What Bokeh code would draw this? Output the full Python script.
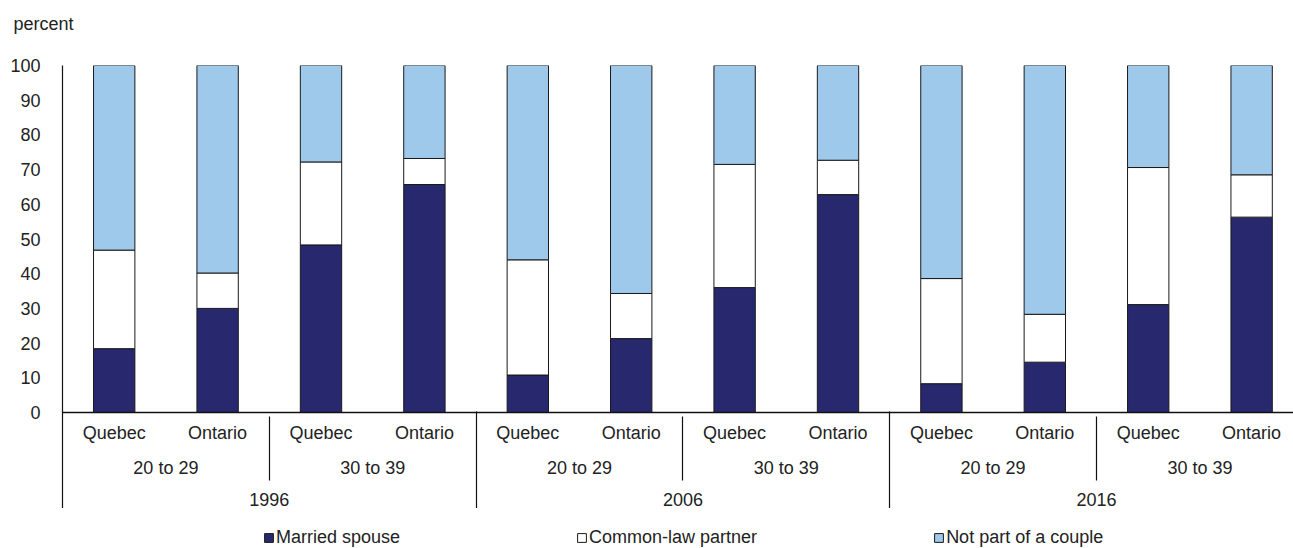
from bokeh.plotting import figure
from bokeh.layouts import column
from bokeh.models import Range1d, LinearAxis, FixedTicker, Legend, LegendItem, ColumnDataSource, Title
from bokeh.embed import file_html
from bokeh.resources import INLINE

# ---- data ----
years = ["1996", "2006", "2016"]
age_groups = ["20 to 29", "30 to 39"]
provinces = ["Quebec", "Ontario"]
married = [18.4, 30.0, 48.3, 65.7, 10.8, 21.3, 36.0, 62.8, 8.3, 14.5, 31.1, 56.3]
common_law = [28.4, 10.2, 23.9, 7.5, 33.2, 13.0, 35.5, 9.9, 30.3, 13.8, 39.5, 12.2]
not_couple = [53.2, 59.8, 27.8, 26.8, 56.0, 65.7, 28.5, 27.3, 61.4, 71.7, 29.4, 31.5]
y_ticks = [0, 10, 20, 30, 40, 50, 60, 70, 80, 90, 100]
series_names = ["Married spouse", "Common-law partner", "Not part of a couple"]
stack_cols = ["married", "common_law", "not_couple"]

FONT = "Liberation Sans"
FS = "18px"
TXT = "#222222"
LINE = "#111111"
colors = ["#28286e", "#ffffff", "#9fc9eb"]

n = len(married)
x = [i + 0.5 for i in range(n)]
source = ColumnDataSource(dict(x=x, married=married, common_law=common_law, not_couple=not_couple))

W = 1293
X_END = 11.905

# thin light-blue rule at the very top
rule = figure(width=W, height=1, output_backend="svg", toolbar_location=None,
              x_axis_type=None, y_axis_type=None, min_border=0,
              outline_line_color=None, background_fill_color="#a8d2f0", border_fill_color="#a8d2f0")
rule.grid.visible = False

p = figure(width=W, height=507, x_range=Range1d(0, X_END), y_range=Range1d(0, 100),
           output_backend="svg", toolbar_location=None, x_axis_type=None, y_axis_type=None,
           min_border_left=62, min_border_right=0, min_border_top=0, min_border_bottom=0,
           outline_line_color=None, background_fill_color="white", border_fill_color="white")

p.vbar_stack(stack_cols, x="x", width=0.4, source=source,
             fill_color=colors, line_color="#1a1a1a", line_width=1)

# blank spacer between frame and title
spacer = LinearAxis(ticker=FixedTicker(ticks=[6.0]), major_label_overrides={6.0: " "},
                    axis_line_color=None, major_tick_out=0, major_tick_in=0,
                    minor_tick_out=0, minor_tick_in=0, major_label_standoff=0,
                    major_label_text_font=FONT, major_label_text_font_size="12px")
p.add_layout(spacer, "above")
p.add_layout(Title(text="percent", align="left", offset=-49, vertical_align="top", standoff=25,
                   text_font=FONT, text_font_size=FS, text_font_style="normal", text_color=TXT), "above")

# y axis
yax = LinearAxis(ticker=FixedTicker(ticks=y_ticks), major_tick_out=0, major_tick_in=0,
                 minor_tick_out=0, minor_tick_in=0, major_label_standoff=22,
                 axis_line_color=LINE, axis_line_width=1.2,
                 major_label_text_font=FONT, major_label_text_font_size=FS,
                 major_label_text_color=TXT)
p.add_layout(yax, "left")

# only grid line at 100 (top border)
p.xgrid.visible = False
p.ygrid.ticker = FixedTicker(ticks=[y_ticks[-1]])
p.ygrid.grid_line_color = "#333333"
p.ygrid.grid_line_width = 1.2

# level 1: provinces
ax1 = LinearAxis(ticker=FixedTicker(ticks=x),
                 major_label_overrides={float(t): provinces[i % 2] for i, t in enumerate(x)},
                 major_tick_out=0, major_tick_in=0, minor_tick_out=0, minor_tick_in=0,
                 major_label_standoff=10, axis_line_color=LINE, axis_line_width=1.5,
                 major_label_text_font=FONT, major_label_text_font_size=FS, major_label_text_color=TXT)
p.add_layout(ax1, "below")

# level 2: age groups
age_ticks = [2 * j + 1 for j in range(n // 2)]
ax2 = LinearAxis(ticker=FixedTicker(ticks=age_ticks),
                 major_label_overrides={t: age_groups[j % 2] for j, t in enumerate(age_ticks)},
                 major_tick_out=0, major_tick_in=0, minor_tick_in=0, minor_tick_out=0,
                 major_label_standoff=12, axis_line_color=None,
                 major_label_text_font=FONT, major_label_text_font_size=FS, major_label_text_color=TXT)
p.add_layout(ax2, "below")

# level 3: years (its minor ticks draw the age-group separators upward)
year_ticks = [4 * k + 2 for k in range(n // 4)]
age_seps = [4 * k + 2 for k in range(n // 4)]
ax3 = LinearAxis(ticker=FixedTicker(ticks=year_ticks, minor_ticks=age_seps),
                 major_label_overrides={t: years[k] for k, t in enumerate(year_ticks)},
                 major_tick_out=0, major_tick_in=0, minor_tick_in=64, minor_tick_out=0,
                 minor_tick_line_color=LINE, minor_tick_line_width=1.2,
                 major_label_standoff=12, axis_line_color=None,
                 major_label_text_font=FONT, major_label_text_font_size=FS, major_label_text_color=TXT)
p.add_layout(ax3, "below")

# year separators, drawn upward from below the year labels
year_seps = [4 * k for k in range(n // 4 + 1)]
ax4 = LinearAxis(ticker=FixedTicker(ticks=[], minor_ticks=year_seps),
                 major_tick_out=0, major_tick_in=0, minor_tick_in=97, minor_tick_out=0,
                 minor_tick_line_color=LINE, minor_tick_line_width=1.2,
                 major_label_standoff=0, axis_line_color=None)
p.add_layout(ax4, "below")

# ---- legend strip (separate figure, same horizontal frame; bars fall outside its y range) ----
lg = figure(width=W, height=40, x_range=Range1d(0, X_END), y_range=Range1d(200, 201),
            output_backend="svg", toolbar_location=None, x_axis_type=None, y_axis_type=None,
            min_border_left=62, min_border_right=0, min_border_top=0, min_border_bottom=0,
            outline_line_color=None, background_fill_color="white", border_fill_color="white")
lg.xgrid.visible = False
lg.ygrid.visible = False
lg_r = lg.vbar_stack(stack_cols, x="x", width=0.4, source=source,
                     fill_color=colors, line_color="#1a1a1a", line_width=1)
legend = Legend(items=[LegendItem(label=series_names[i], renderers=[lg_r[i]]) for i in range(3)],
                orientation="horizontal", location=(201, 0), glyph_width=11, glyph_height=11,
                label_standoff=2, spacing=176, padding=0, margin=0, border_line_color=None,
                background_fill_alpha=0, label_text_font=FONT, label_text_font_size=FS,
                label_text_color=TXT)
lg.add_layout(legend)

layout = column(rule, p, lg, spacing=0)
open("out.html", "w").write(file_html(layout, INLINE))
